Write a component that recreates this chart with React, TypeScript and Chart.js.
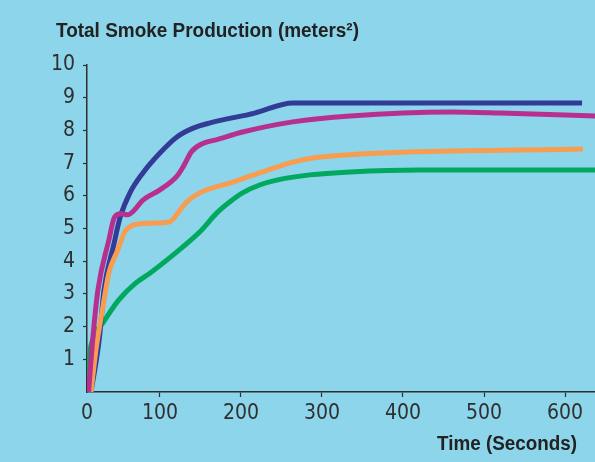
import React, { useEffect, useRef } from "react";
import { Chart, registerables } from "chart.js";

Chart.register(...registerables);

// ---- text ----
const chartTitle = "Total Smoke Production (meters²)";
const xAxisTitle = "Time (Seconds)";

// ---- ticks ----
const xTickValues = [0, 100, 200, 300, 400, 500, 600];
const yTickValues = [1, 2, 3, 4, 5, 6, 7, 8, 9, 10];

// ---- series (time in seconds, smoke in m²) ----
const blueTime = [15, 25, 31, 43, 51, 63, 79, 100, 121, 141, 162, 217, 264, 621];
const blueSmoke = [0, 1.59, 3.12, 4.5, 5.35, 6.09, 6.7, 7.31, 7.8, 8.07, 8.23, 8.53, 8.84, 8.84];

const magentaTime = [12, 17, 23.5, 37, 44, 52, 60, 68, 79, 100, 121, 129, 139, 153, 169, 202, 264, 335, 458, 520, 640];
const magentaSmoke = [0, 1.59, 3.12, 4.65, 5.35, 5.45, 5.42, 5.55, 5.87, 6.18, 6.6, 6.9, 7.35, 7.6, 7.71, 7.95, 8.26, 8.44, 8.56, 8.53, 8.44];

const orangeTime = [15, 21, 29.6, 37, 48, 58, 79, 100, 112, 125, 133, 149, 190, 223, 264, 298, 622];
const orangeSmoke = [0, 1.28, 2.6, 3.64, 4.34, 4.95, 5.15, 5.17, 5.2, 5.57, 5.81, 6.09, 6.42, 6.7, 7.03, 7.19, 7.43];

const greenTime = [11, 12.5, 17, 29.6, 49, 70, 88, 128, 149, 170, 186, 202, 223, 244, 285, 335, 421, 640];
const greenSmoke = [0, 0.92, 1.59, 2.11, 2.81, 3.33, 3.64, 4.43, 4.89, 5.47, 5.81, 6.09, 6.33, 6.48, 6.64, 6.73, 6.79, 6.79];

const toPoints = (xs: number[], ys: number[]) => xs.map((x, i) => ({ x, y: ys[i] }));

const X_MIN = 10;
const X_MAX = 637;
const BG = "#8cd5ea";
const INK = "#2f2f2f";
const TICK_FONT = "'Liberation Sans Narrow', 'Arial Narrow', 'DejaVu Sans Condensed', sans-serif";

const decorPlugin = {
  id: "decor",
  beforeDraw(chart: any) {
    const ctx = chart.ctx;
    ctx.save();
    ctx.fillStyle = BG;
    ctx.fillRect(0, 0, chart.width, chart.height);
    ctx.restore();
  },
  afterDraw(chart: any) {
    const ctx = chart.ctx;
    ctx.save();
    ctx.fillStyle = "#222222";
    ctx.font = "bold 20px 'Liberation Sans', Arial, sans-serif";
    ctx.textBaseline = "alphabetic";
    ctx.textAlign = "left";
    ctx.fillText(chartTitle, 56, 37, 303);
    ctx.textAlign = "right";
    ctx.fillText(xAxisTitle, 577, 450, 140);
    ctx.restore();
  },
};

export default function App() {
  const ref = useRef<HTMLCanvasElement | null>(null);

  useEffect(() => {
    if (!ref.current) return;
    const lineDs = (label: string, xs: number[], ys: number[], color: string) => ({
      label,
      data: toPoints(xs, ys),
      borderColor: color,
      backgroundColor: color,
      borderWidth: 5,
      pointRadius: 0,
      fill: false,
      cubicInterpolationMode: "monotone" as const,
      borderCapStyle: "butt" as const,
      borderJoinStyle: "round" as const,
    });
    const chart = new Chart(ref.current, {
      type: "line",
      data: {
        datasets: [
          lineDs("Magenta", magentaTime, magentaSmoke, "#b8308f"),
          lineDs("Orange", orangeTime, orangeSmoke, "#f89c52"),
          lineDs("Blue", blueTime, blueSmoke, "#323c97"),
          lineDs("Green", greenTime, greenSmoke, "#00a95e"),
        ],
      },
      options: {
        animation: false,
        responsive: false,
        devicePixelRatio: 1,
        layout: { padding: { top: 65, left: 0, right: 0, bottom: 0 } },
        plugins: {
          legend: { display: false },
          tooltip: { enabled: false },
          title: { display: false },
        },
        scales: {
          x: {
            type: "linear",
            min: X_MIN,
            max: X_MAX,
            afterBuildTicks: (scale: any) => {
              scale.ticks = xTickValues.map((v) => ({ value: Math.max(v, X_MIN) }));
            },
            afterFit: (scale: any) => {
              scale.height = 70;
            },
            border: { display: true, color: INK, width: 1.5 },
            grid: {
              drawOnChartArea: false,
              drawTicks: true,
              tickLength: 5,
              tickWidth: 1.2,
              tickColor: (c: any) => (c.index === 0 ? "transparent" : INK),
            },
            ticks: {
              autoSkip: false,
              maxRotation: 0,
              padding: 4,
              color: INK,
              font: { family: TICK_FONT, size: 21 },
              callback: (_v: any, i: number) => String(xTickValues[i]),
            },
          },
          y: {
            type: "linear",
            min: 0,
            max: 10,
            afterBuildTicks: (scale: any) => {
              scale.ticks = [0, ...yTickValues].map((v) => ({ value: v }));
            },
            afterFit: (scale: any) => {
              scale.width = 87;
            },
            border: { display: true, color: INK, width: 1.5 },
            grid: {
              drawOnChartArea: false,
              drawTicks: true,
              tickLength: 4,
              tickWidth: 1.2,
              tickColor: (c: any) => (c.tick && c.tick.value === 0 ? "transparent" : INK),
            },
            ticks: {
              autoSkip: false,
              padding: 8,
              color: INK,
              font: { family: TICK_FONT, size: 21 },
              callback: (v: any) => (Number(v) === 0 ? "" : String(v)),
            },
          },
        },
      },
      plugins: [decorPlugin],
    });
    return () => chart.destroy();
  }, []);

  return (
    <div style={{ position: "fixed", left: 0, top: 0, width: 595, height: 462, background: BG }}>
      <canvas ref={ref} width={595} height={462} style={{ width: 595, height: 462, display: "block" }} />
    </div>
  );
}
